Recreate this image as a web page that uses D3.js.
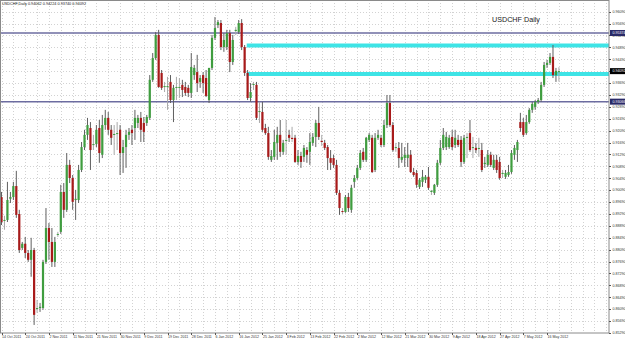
<!DOCTYPE html>
<html>
<head>
<meta charset="utf-8">
<script src="https://cdn.jsdelivr.net/npm/d3@7"></script>
<style>
  html, body { margin: 0; padding: 0; background: #fff; }
  svg { display: block; font-family: "Liberation Sans", Arial, sans-serif; }
</style>
</head>
<body>
<svg id="chart" width="625" height="341"></svg>
<script>
(function() {

    // symbol / title
    var symbol = "USDCHF,Daily";
    var title = "USDCHF Daily";

    // daily OHLC, 14 Oct 2011 .. May 2012 (one bar per index)
    var open = [0.8986,0.8906,0.8909,0.8980,0.8986,0.9023,0.8929,0.8815,0.8829,0.8798,0.8775,0.8808,0.8610,0.8613,0.8613,0.8768,0.8882,0.8835,0.8768,0.8859,
        0.8869,0.9003,0.8943,0.9094,0.9050,0.8976,0.8976,0.9077,0.9154,0.9195,0.9218,0.9161,0.9164,0.9218,0.9128,0.9228,0.9252,0.9212,0.9195,0.9198,
        0.9212,0.9134,0.9154,0.9195,0.9212,0.9218,0.9235,0.9252,0.9235,0.9235,0.9252,0.9380,0.9453,0.9531,0.9403,0.9356,0.9356,0.9373,0.9312,0.9353,
        0.9353,0.9363,0.9356,0.9353,0.9336,0.9396,0.9406,0.9373,0.9396,0.9386,0.9312,0.9420,0.9521,0.9564,0.9571,0.9490,0.9490,0.9537,0.9440,0.9544,
        0.9541,0.9571,0.9490,0.9403,0.9319,0.9363,0.9363,0.9272,0.9272,0.9218,0.9201,0.9111,0.9121,0.9168,0.9195,0.9138,0.9175,0.9195,0.9185,0.9185,
        0.9104,0.9124,0.9121,0.9144,0.9138,0.9168,0.9188,0.9235,0.9175,0.9168,0.9154,0.9117,0.9117,0.9094,0.9000,0.8939,0.8936,0.8986,0.8943,0.9037,
        0.9050,0.9084,0.9138,0.9111,0.9178,0.9185,0.9077,0.9185,0.9185,0.9161,0.9228,0.9302,0.9228,0.9151,0.9151,0.9111,0.9117,0.9117,0.9128,0.9070,
        0.9067,0.9020,0.9037,0.9044,0.9054,0.9003,0.9000,0.9027,0.9101,0.9151,0.9154,0.9154,0.9188,0.9161,0.9178,0.9178,0.9104,0.9185,0.9201,0.9151,
        0.9151,0.9148,0.9144,0.9097,0.9094,0.9128,0.9084,0.9111,0.9104,0.9064,0.9054,0.9060,0.9070,0.9128,0.9144,0.9238,0.9238,0.9201,0.9238,0.9279,
        0.9289,0.9306,0.9312,0.9363,0.9430,0.9437,0.9457,0.9396,0.94062];
    var high = [0.9003,0.8923,0.9037,0.9003,0.9037,0.9074,0.8943,0.8835,0.8852,0.8808,0.8849,0.8815,0.8640,0.8630,0.8775,0.8949,0.8899,0.8882,0.8852,0.8869,
        0.9027,0.9033,0.9134,0.9111,0.9060,0.9010,0.9094,0.9171,0.9212,0.9252,0.9238,0.9195,0.9228,0.9245,0.9262,0.9279,0.9272,0.9228,0.9228,0.9238,
        0.9228,0.9178,0.9212,0.9218,0.9228,0.9279,0.9262,0.9272,0.9255,0.9262,0.9396,0.9470,0.9541,0.9548,0.9413,0.9373,0.9390,0.9396,0.9363,0.9390,
        0.9386,0.9380,0.9373,0.9363,0.9470,0.9430,0.9464,0.9396,0.9406,0.9413,0.9420,0.9531,0.9591,0.9581,0.9581,0.9537,0.9548,0.9548,0.9531,0.9558,
        0.9581,0.9584,0.9497,0.9413,0.9369,0.9373,0.9373,0.9306,0.9306,0.9232,0.9222,0.9144,0.9212,0.9222,0.9245,0.9178,0.9245,0.9212,0.9222,0.9195,
        0.9144,0.9138,0.9161,0.9154,0.9201,0.9201,0.9245,0.9289,0.9195,0.9178,0.9161,0.9144,0.9128,0.9111,0.9010,0.8949,0.8993,0.9000,0.9027,0.9060,
        0.9094,0.9144,0.9151,0.9188,0.9201,0.9195,0.9201,0.9212,0.9195,0.9245,0.9329,0.9329,0.9238,0.9168,0.9171,0.9168,0.9154,0.9168,0.9144,0.9084,
        0.9077,0.9050,0.9077,0.9060,0.9087,0.9010,0.9030,0.9111,0.9178,0.9218,0.9205,0.9195,0.9212,0.9212,0.9195,0.9191,0.9195,0.9201,0.9245,0.9188,
        0.9168,0.9185,0.9168,0.9121,0.9144,0.9138,0.9128,0.9128,0.9121,0.9077,0.9077,0.9094,0.9144,0.9161,0.9178,0.9269,0.9252,0.9262,0.9285,0.9306,
        0.9312,0.9319,0.9373,0.9440,0.9447,0.9470,0.9497,0.9420,0.94224];
    var low = [0.8892,0.8876,0.8902,0.8966,0.8976,0.8916,0.8798,0.8808,0.8781,0.8768,0.8718,0.8556,0.8597,0.8600,0.8607,0.8761,0.8775,0.8751,0.8751,0.8852,
        0.8862,0.8916,0.8936,0.9033,0.8943,0.8909,0.8966,0.9070,0.9144,0.9178,0.9077,0.9144,0.9154,0.9101,0.9117,0.9212,0.9195,0.9161,0.9128,0.9144,
        0.9060,0.9067,0.9084,0.9178,0.9161,0.9178,0.9218,0.9171,0.9171,0.9225,0.9245,0.9373,0.9447,0.9353,0.9346,0.9339,0.9279,0.9302,0.9238,0.9312,
        0.9319,0.9322,0.9326,0.9322,0.9319,0.9380,0.9339,0.9353,0.9336,0.9322,0.9302,0.9413,0.9514,0.9554,0.9480,0.9474,0.9480,0.9406,0.9430,0.9531,
        0.9534,0.9480,0.9393,0.9312,0.9306,0.9346,0.9245,0.9235,0.9205,0.9195,0.9111,0.9104,0.9111,0.9111,0.9121,0.9128,0.9128,0.9171,0.9171,0.9101,
        0.9094,0.9084,0.9104,0.9101,0.9094,0.9158,0.9154,0.9178,0.9158,0.9144,0.9077,0.9077,0.9084,0.8993,0.8926,0.8929,0.8933,0.8936,0.8933,0.9017,
        0.9044,0.9077,0.9104,0.9104,0.9171,0.9067,0.9070,0.9178,0.9154,0.9154,0.9218,0.9222,0.9138,0.9138,0.9084,0.9101,0.9087,0.9087,0.9067,0.9054,
        0.9017,0.9013,0.9020,0.9033,0.9010,0.8993,0.8993,0.9020,0.9094,0.9144,0.9144,0.9148,0.9144,0.9151,0.9154,0.9087,0.9097,0.9117,0.9138,0.9117,
        0.9134,0.9121,0.9070,0.9084,0.9087,0.9087,0.9077,0.9067,0.9044,0.9050,0.9047,0.9054,0.9064,0.9111,0.9104,0.9205,0.9188,0.9195,0.9232,0.9269,
        0.9279,0.9299,0.9306,0.9356,0.9420,0.9430,0.9386,0.9373,0.93740];
    var close = [0.8902,0.8909,0.8976,0.8986,0.9023,0.8926,0.8808,0.8829,0.8798,0.8775,0.8808,0.8590,0.8613,0.8617,0.8768,0.8882,0.8835,0.8768,0.8835,0.8862,
        0.9003,0.8943,0.9094,0.9050,0.8970,0.8980,0.9077,0.9154,0.9195,0.9228,0.9144,0.9164,0.9212,0.9134,0.9228,0.9252,0.9212,0.9185,0.9198,0.9201,
        0.9134,0.9154,0.9195,0.9205,0.9201,0.9252,0.9252,0.9212,0.9205,0.9255,0.9380,0.9453,0.9531,0.9356,0.9353,0.9359,0.9359,0.9312,0.9353,0.9356,
        0.9356,0.9346,0.9336,0.9336,0.9423,0.9420,0.9369,0.9386,0.9369,0.9326,0.9420,0.9521,0.9554,0.9574,0.9490,0.9514,0.9537,0.9440,0.9514,0.9548,
        0.9571,0.9490,0.9403,0.9319,0.9339,0.9366,0.9252,0.9275,0.9212,0.9201,0.9121,0.9124,0.9171,0.9195,0.9138,0.9168,0.9178,0.9185,0.9181,0.9104,
        0.9124,0.9104,0.9151,0.9128,0.9171,0.9188,0.9235,0.9188,0.9171,0.9151,0.9117,0.9101,0.9094,0.9000,0.8949,0.8936,0.8986,0.8949,0.9017,0.9050,
        0.9084,0.9134,0.9111,0.9185,0.9195,0.9070,0.9185,0.9195,0.9161,0.9228,0.9302,0.9228,0.9144,0.9154,0.9117,0.9121,0.9128,0.9128,0.9070,0.9060,
        0.9027,0.9044,0.9054,0.9054,0.9017,0.9007,0.9027,0.9101,0.9151,0.9195,0.9188,0.9185,0.9154,0.9185,0.9161,0.9104,0.9185,0.9188,0.9144,0.9154,
        0.9144,0.9151,0.9077,0.9101,0.9128,0.9094,0.9111,0.9077,0.9050,0.9067,0.9067,0.9070,0.9134,0.9151,0.9171,0.9218,0.9195,0.9238,0.9279,0.9299,
        0.9306,0.9312,0.9363,0.9430,0.9437,0.9457,0.9396,0.9410,0.94092];

    // time labels, one every 8 bars
    var dateLabels = ["14 Oct 2011","24 Oct 2011","2 Nov 2011","11 Nov 2011","21 Nov 2011","30 Nov 2011","9 Dec 2011","19 Dec 2011",
        "28 Dec 2011","6 Jan 2012","16 Jan 2012","25 Jan 2012","3 Feb 2012","13 Feb 2012","22 Feb 2012","2 Mar 2012",
        "12 Mar 2012","21 Mar 2012","30 Mar 2012","9 Apr 2012","18 Apr 2012","27 Apr 2012","7 May 2012","16 May 2012"];

    // price scale labels
    var priceTicks = [0.96090,0.95690,0.95290,0.94890,0.94490,0.94090,0.93690,0.93290,0.92890,0.92490,0.92090,0.91690,0.91290,0.90890,
        0.90490,0.90090,0.89690,0.89290,0.88890,0.88490,0.88090,0.87690,0.87290,0.86890,0.86490,0.86090,0.85690,0.85290];

    // horizontal lines drawn on the chart
    var levelLines = [0.95374, 0.93066];      // purple, full width
    var zoneLines = [0.94954, 0.93997];       // cyan, from zoneStart to the right
    var zoneStart = 82.7;

    var W = 625, H = 341;
    var plotR = 609, plotB = 333;
    var nBars = close.length;

    var svg = d3.select("#chart");

    var x = d3.scaleLinear().domain([0, nBars - 1]).range([1.5, 1.5 + (nBars - 1) * 2.965]);
    var y = d3.scaleLinear().domain([0.85290, 0.96483]).range([plotB, 0]);

    svg.append("defs").append("clipPath").attr("id", "plotclip")
        .append("rect").attr("x", 0).attr("y", 0).attr("width", plotR).attr("height", plotB);

    var plot = svg.append("g").attr("clip-path", "url(#plotclip)");

    //grid
    var vIdx = d3.range(0, nBars + 16, 4);
    plot.selectAll("line.vgrid").data(vIdx).enter().append("line")
        .attr("class", "vgrid")
        .attr("x1", function(d) { return Math.round(x(d)) + 0.5; })
        .attr("x2", function(d) { return Math.round(x(d)) + 0.5; })
        .attr("y1", 0).attr("y2", plotB)
        .attr("stroke", "#d2d2d2").attr("stroke-width", 1).attr("stroke-dasharray", "1,2");

    plot.selectAll("line.hgrid").data(priceTicks).enter().append("line")
        .attr("class", "hgrid")
        .attr("x1", 0).attr("x2", plotR)
        .attr("y1", function(d) { return Math.round(y(d)) + 0.5; })
        .attr("y2", function(d) { return Math.round(y(d)) + 0.5; })
        .attr("stroke", "#d2d2d2").attr("stroke-width", 1).attr("stroke-dasharray", "1,2");

    //cyan zones
    plot.selectAll("line.zone").data(zoneLines).enter().append("line")
        .attr("x1", x(zoneStart)).attr("x2", plotR)
        .attr("y1", function(d) { return y(d); })
        .attr("y2", function(d) { return y(d); })
        .attr("stroke", "#3ee4e6").attr("stroke-width", 4);

    //purple levels
    plot.selectAll("line.level").data(levelLines).enter().append("line")
        .attr("x1", 0).attr("x2", plotR)
        .attr("y1", function(d) { return y(d); })
        .attr("y2", function(d) { return y(d); })
        .attr("stroke", "#6c6ca0").attr("stroke-width", 1.5);

    //candles
    var bars = d3.range(nBars);
    var candles = plot.selectAll("g.candle").data(bars).enter().append("g");

    candles.append("line")
        .attr("x1", function(i) { return x(i); })
        .attr("x2", function(i) { return x(i); })
        .attr("y1", function(i) { return y(high[i]); })
        .attr("y2", function(i) { return y(low[i]); })
        .attr("stroke", function(i) {
            return Math.abs(open[i] - close[i]) < 0.0004 ? "#a8a8a8" : "#5f5f5f";
        })
        .attr("stroke-width", 1);

    candles.append("rect")
        .attr("x", function(i) { return x(i) - 1.1; })
        .attr("width", 2.2)
        .attr("y", function(i) { return y(Math.max(open[i], close[i])); })
        .attr("height", function(i) { return Math.max(1, Math.abs(y(open[i]) - y(close[i]))); })
        .attr("fill", function(i) {
            if (Math.abs(open[i] - close[i]) < 0.0002) return "#222";
            return close[i] >= open[i] ? "#3f9d3f" : "#a81a1a";
        });

    //frame
    svg.append("rect").attr("x", 0.5).attr("y", 0.5).attr("width", plotR - 0.5).attr("height", plotB - 0.5)
        .attr("fill", "none").attr("stroke", "#8a8a8a").attr("stroke-width", 1);

    //price axis
    var fmt = d3.format(".5f");
    var pAxis = svg.append("g");
    pAxis.selectAll("line").data(priceTicks).enter().append("line")
        .attr("x1", plotR).attr("x2", plotR + 2)
        .attr("y1", function(d) { return Math.round(y(d)) + 0.5; })
        .attr("y2", function(d) { return Math.round(y(d)) + 0.5; })
        .attr("stroke", "#555");
    pAxis.selectAll("text").data(priceTicks).enter().append("text")
        .attr("x", plotR + 3.5)
        .attr("y", function(d) { return y(d); })
        .attr("dy", "0.35em")
        .attr("font-size", 3.6)
        .attr("fill", "#333")
        .text(function(d) { return fmt(d); });

    //price tags
    var tags = levelLines.map(function(v) { return {v: v, c: "#2a2a68"}; });
    tags.push({v: close[nBars - 1], c: "#000"});
    var tg = svg.selectAll("g.tag").data(tags).enter().append("g");
    tg.append("rect")
        .attr("x", plotR + 1).attr("width", W - plotR - 1)
        .attr("y", function(d) { return y(d.v) - 3; })
        .attr("height", 6)
        .attr("fill", function(d) { return d.c; });
    tg.append("text")
        .attr("x", plotR + 3.5)
        .attr("y", function(d) { return y(d.v); })
        .attr("dy", "0.35em")
        .attr("font-size", 3.6)
        .attr("fill", "#fff")
        .text(function(d) { return fmt(d.v); });

    //time axis
    var tAxis = svg.append("g");
    var tIdx = dateLabels.map(function(d, k) { return k * 8; });
    tAxis.selectAll("line").data(tIdx).enter().append("line")
        .attr("x1", function(i) { return Math.round(x(i)) + 0.5; })
        .attr("x2", function(i) { return Math.round(x(i)) + 0.5; })
        .attr("y1", plotB).attr("y2", plotB + 2)
        .attr("stroke", "#555");
    tAxis.selectAll("text").data(tIdx).enter().append("text")
        .attr("x", function(i) { return x(i) + 0.5; })
        .attr("y", plotB + 5.2)
        .attr("font-size", 3.6)
        .attr("fill", "#333")
        .text(function(i, k) { return dateLabels[k]; });

    //header
    var last = nBars - 1;
    svg.append("text")
        .attr("x", 2).attr("y", 5)
        .attr("font-size", 3.8)
        .attr("fill", "#222")
        .text(symbol + "  " + [open[last], high[last], low[last], close[last]].map(fmt).join(" "));

    svg.append("text")
        .attr("x", 492).attr("y", 22)
        .attr("font-size", 7.2)
        .attr("fill", "#222")
        .text(title);

})();
</script>
</body>
</html>
